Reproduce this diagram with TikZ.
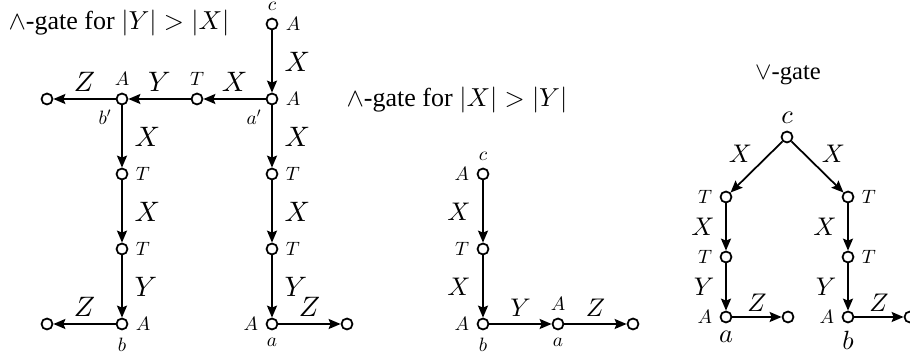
\RequirePackage{fix-cm}
\documentclass[tikz,border=0pt]{standalone}
\usepackage{fontspec}
\setmainfont{Liberation Serif}
\DeclareFontShape{OML}{cmm}{m}{it}{<->cmmi10}{}
\DeclareFontShape{OMS}{cmsy}{m}{n}{<->cmsy10}{}
\usetikzlibrary{arrows.meta, positioning}
\tikzset{
	vtx/.style   ={circle, draw=black, line width=1pt, fill=white, minimum size=0.22cm, inner sep=0pt},
	gedge/.style ={-{Stealth[length=2.4mm, width=2mm, inset=0.4mm]}, line width=1pt},
	elab/.style  ={font=\fontsize{16}{16}\selectfont, inner sep=1pt},
	slab/.style  ={font=\fontsize{14.5}{14.5}\selectfont, inner sep=1pt},
	tagl/.style  ={font=\fontsize{11}{11}\selectfont, inner sep=1pt},
	bigtag/.style={font=\fontsize{15}{15}\selectfont, inner sep=1pt},
	gtitle/.style={font=\fontsize{14.8}{16}\selectfont},
}

\begin{document}
\begin{tikzpicture}[node distance=1.5cm, on grid, label distance=1.1mm]
\useasboundingbox (0,0) rectangle (18.2,-7.2);

% and-gate for |Y| > |X|
\node[gtitle] (ttl1) at (2.38,-0.46) {$\wedge$-gate for $|Y|>|X|$};
\node[vtx, label={[tagl]above:$c$}, label={[tagl]right:$A$}] (c1) at (5.44,-0.48) {};
\node[vtx, below=of c1, label={[tagl]right:$A$}, label={[tagl]below left:$a'$}] (ap) {};
\node[vtx, left=of ap, label={[tagl]above:$T$}] (tm) {};
\node[vtx, left=of tm, label={[tagl]above:$A$}, label={[tagl]below left:$b'$}] (bp) {};
\node[vtx, left=of bp] (z1) {};
\node[vtx, below=of bp, label={[tagl]right:$T$}] (bt1) {};
\node[vtx, below=of bt1, label={[tagl]right:$T$}] (bt2) {};
\node[vtx, below=of bt2, label={[tagl]right:$A$}, label={[tagl]below:$b$}] (b1) {};
\node[vtx, left=of b1] (z2) {};
\node[vtx, below=of ap, label={[tagl]right:$T$}] (at1) {};
\node[vtx, below=of at1, label={[tagl]right:$T$}] (at2) {};
\node[vtx, below=of at2, label={[tagl]left:$A$}, label={[tagl]below:$a$}] (a1) {};
\node[vtx, right=of a1] (z3) {};
\draw[gedge] (c1) -- node[elab, right=0.2cm] {$X$} (ap);
\draw[gedge] (ap) -- node[elab, above=0.1cm] {$X$} (tm);
\draw[gedge] (tm) -- node[elab, above=0.1cm] {$Y$} (bp);
\draw[gedge] (bp) -- node[elab, above=0.1cm] {$Z$} (z1);
\draw[gedge] (bp) -- node[elab, right=0.2cm] {$X$} (bt1);
\draw[gedge] (bt1) -- node[elab, right=0.2cm] {$X$} (bt2);
\draw[gedge] (bt2) -- node[elab, right=0.2cm] {$Y$} (b1);
\draw[gedge] (b1) -- node[elab, above=0.1cm] {$Z$} (z2);
\draw[gedge] (ap) -- node[elab, right=0.2cm] {$X$} (at1);
\draw[gedge] (at1) -- node[elab, right=0.2cm] {$X$} (at2);
\draw[gedge] (at2) -- node[elab, right=0.2cm] {$Y$} (a1);
\draw[gedge] (a1) -- node[elab, above=0.1cm] {$Z$} (z3);

% and-gate for |X| > |Y|
\node[gtitle] (ttl2) at (9.14,-2.0) {$\wedge$-gate for $|X|>|Y|$};
\node[vtx, label={[tagl]above:$c$}, label={[tagl]left:$A$}] (c2) at (9.66,-3.48) {};
\node[vtx, below=of c2, label={[tagl]left:$T$}] (mt) {};
\node[vtx, below=of mt, label={[tagl]left:$A$}, label={[tagl]below:$b$}] (b2) {};
\node[vtx, right=of b2, label={[tagl]above:$A$}, label={[tagl]below:$a$}] (a2) {};
\node[vtx, right=of a2] (z4) {};
\draw[gedge] (c2) -- node[slab, left=0.2cm] {$X$} (mt);
\draw[gedge] (mt) -- node[slab, left=0.2cm] {$X$} (b2);
\draw[gedge] (b2) -- node[slab, above=0.1cm] {$Y$} (a2);
\draw[gedge] (a2) -- node[slab, above=0.1cm] {$Z$} (z4);

% or-gate
\node[gtitle, font=\fontsize{14}{15}\selectfont] (ttl3) at (15.76,-1.5) {$\vee$-gate};
\node[vtx, label={[bigtag]above:$c$}] (c3) at (15.74,-2.74) {};
\node[vtx, below left=1.2cm and 1.22cm of c3, label={[tagl]left:$T$}] (lt1) {};
\node[vtx, below=1.2cm of lt1, label={[tagl]left:$T$}] (lt2) {};
\node[vtx, below=1.2cm of lt2, label={[tagl]left:$A$}, label={[bigtag]below:$a$}] (la) {};
\node[vtx, right=1.24cm of la] (lz) {};
\node[vtx, below right=1.2cm and 1.22cm of c3, label={[tagl]right:$T$}] (rt1) {};
\node[vtx, below=1.2cm of rt1, label={[tagl]right:$T$}] (rt2) {};
\node[vtx, below=1.2cm of rt2, label={[tagl]left:$A$}, label={[bigtag]below:$b$}] (rb) {};
\node[vtx, right=1.24cm of rb] (rz) {};
\draw[gedge] (c3) -- node[slab, above left=0.05cm] {$X$} (lt1);
\draw[gedge] (c3) -- node[slab, above right=0.05cm] {$X$} (rt1);
\draw[gedge] (lt1) -- node[slab, left=0.18cm] {$X$} (lt2);
\draw[gedge] (lt2) -- node[slab, left=0.18cm] {$Y$} (la);
\draw[gedge] (la) -- node[slab, above=0.05cm] {$Z$} (lz);
\draw[gedge] (rt1) -- node[slab, left=0.18cm] {$X$} (rt2);
\draw[gedge] (rt2) -- node[slab, left=0.18cm] {$Y$} (rb);
\draw[gedge] (rb) -- node[slab, above=0.05cm] {$Z$} (rz);
\end{tikzpicture}
\end{document}
